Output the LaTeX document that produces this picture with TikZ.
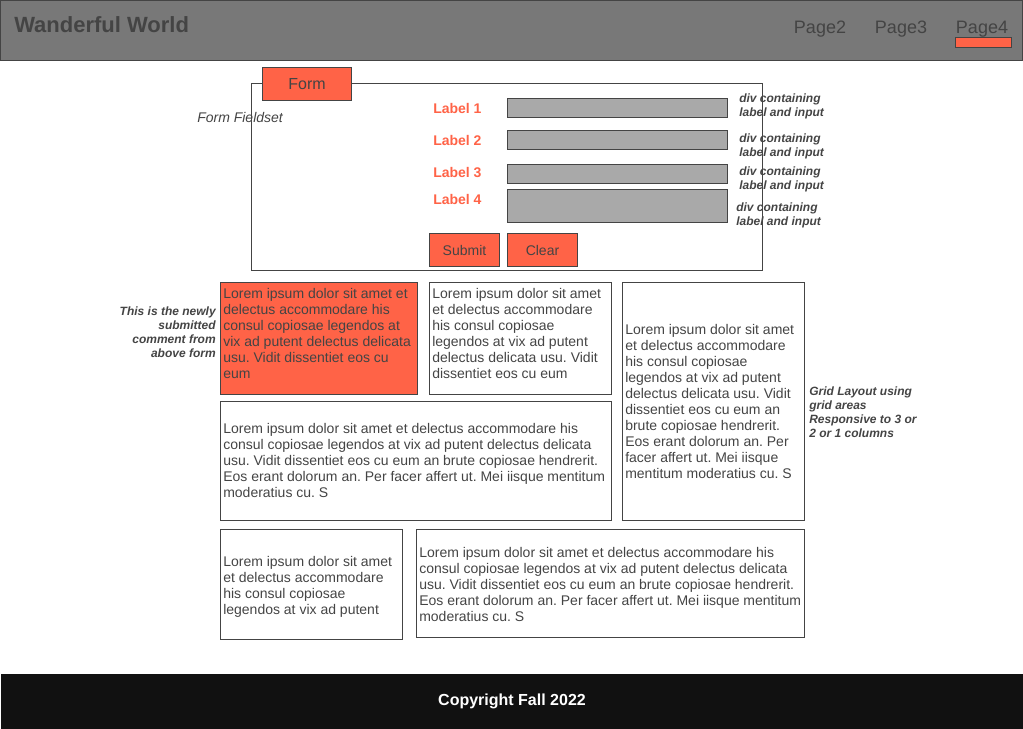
\documentclass[tikz,border=0pt]{standalone}
\usepackage{fontspec}
\setmainfont{Liberation Sans}
\usepackage{xcolor}
\usepackage{tikz}
\frenchspacing

\definecolor{tomato}{HTML}{FF6347}
\definecolor{ink}{HTML}{444444}
\definecolor{barc}{HTML}{787878}
\definecolor{inputc}{HTML}{A9A9A9}
\definecolor{footc}{HTML}{111111}

\begin{document}
\begin{tikzpicture}[x=0.75pt,y=-0.75pt,
  box/.style 2 args={draw=ink, line width=0.75pt, minimum width=#1*0.75pt, minimum height=#2*0.75pt, anchor=north west, inner sep=0pt},
  lorem/.style={text=ink, font=\fontsize{10.5}{12}\selectfont, align=left, anchor=north west, inner sep=0pt},
  note/.style={text=ink, font=\fontsize{9}{10.5}\selectfont\bfseries\itshape, inner sep=0pt},
  lbl/.style={text=tomato, font=\fontsize{10.5}{12}\selectfont\bfseries, anchor=base west, inner sep=0pt},
  btn/.style={text=ink, font=\fontsize{10.5}{12}\selectfont, fill=tomato}]
\useasboundingbox (0,0) rectangle (1023,728);

%header
\node[box={1022}{60}, fill=barc] (hdr) at (0,0) {};
\node[anchor=base west, text=ink, font=\fontsize{16.5}{20}\selectfont\bfseries, inner sep=0pt] (title) at (14,32) {Wanderful World};
\foreach \p/\x in {2/820,3/901,4/982}
\node[anchor=base, text=ink, font=\fontsize{13.5}{16}\selectfont, inner sep=0pt] (pg\p) at (\x,33) {Page\p};
\node[box={56}{10}, fill=tomato] (active) at (955,37) {};

%form
\node[box={511}{187}] (fset) at (251,83) {};
\node[box={89}{33}, fill=tomato, text=ink, font=\fontsize{12}{14}\selectfont] (formtab) at (262,67) {Form};
\node[anchor=base west, text=ink, font=\fontsize{10.5}{12}\selectfont\itshape, inner sep=0pt] (fslabel) at (197,122) {Form Fieldset};

\foreach \i/\y in {1/113,2/145,3/177,4/204}
\node[lbl] (lab\i) at (433,\y) {Label \i};
\foreach \i/\y/\h in {1/98/19,2/130/19,3/164/19,4/189/33}
\node[box={220}{\h}, fill=inputc] (in\i) at (507,\y) {};
\foreach \i/\x/\y in {1/739/94,2/739/134,3/739/167,4/736/203}
\node[note, align=left, anchor=north west] (div\i) at (\x,\y) {div containing\\label and input};

\node[box={70}{33}, btn] (submit) at (429,233) {Submit};
\node[box={70}{33}, btn] (clear) at (507,233) {Clear};

%grid
\node[box={197}{112}, fill=tomato] (gA) at (220,282) {};
\node[box={182}{112}] (gB) at (429,282) {};
\node[box={182}{238}] (gC) at (622,282) {};
\node[box={391}{119}] (gD) at (220,401) {};
\node[box={182}{110}] (gE) at (220,529) {};
\node[box={388}{108}] (gF) at (416,529) {};

\node[lorem] (tA) at (223,288) {Lorem ipsum dolor sit amet et\\delectus accommodare his\\consul copiosae legendos at\\vix ad putent delectus delicata\\usu. Vidit dissentiet eos cu\\eum};
\node[lorem] (tB) at (432,288) {Lorem ipsum dolor sit amet\\et delectus accommodare\\his consul copiosae\\legendos at vix ad putent\\delectus delicata usu. Vidit\\dissentiet eos cu eum};
\node[lorem] (tC) at (625,324) {Lorem ipsum dolor sit amet\\et delectus accommodare\\his consul copiosae\\legendos at vix ad putent\\delectus delicata usu. Vidit\\dissentiet eos cu eum an\\brute copiosae hendrerit.\\Eos erant dolorum an. Per\\facer affert ut. Mei iisque\\mentitum moderatius cu. S};
\node[lorem] (tD) at (223,423) {Lorem ipsum dolor sit amet et delectus accommodare his\\consul copiosae legendos at vix ad putent delectus delicata\\usu. Vidit dissentiet eos cu eum an brute copiosae hendrerit.\\Eos erant dolorum an. Per facer affert ut. Mei iisque mentitum\\moderatius cu. S};
\node[lorem] (tE) at (223,556) {Lorem ipsum dolor sit amet\\et delectus accommodare\\his consul copiosae\\legendos at vix ad putent};
\node[lorem] (tF) at (419,547) {Lorem ipsum dolor sit amet et delectus accommodare his\\consul copiosae legendos at vix ad putent delectus delicata\\usu. Vidit dissentiet eos cu eum an brute copiosae hendrerit.\\Eos erant dolorum an. Per facer affert ut. Mei iisque mentitum\\moderatius cu. S};

\node[note, align=right, anchor=north east] (newnote) at (216,307) {This is the newly\\submitted\\comment from\\above form};
\node[note, align=left, anchor=north west] (gridnote) at (809,387) {Grid Layout using\\grid areas\\Responsive to 3 or\\2 or 1 columns};

%footer
\node[box={1023}{55}, draw=none, fill=footc, text=white, font=\fontsize{12}{14}\selectfont\bfseries] (foot) at (0,673) {Copyright Fall 2022};
\end{tikzpicture}
\end{document}
